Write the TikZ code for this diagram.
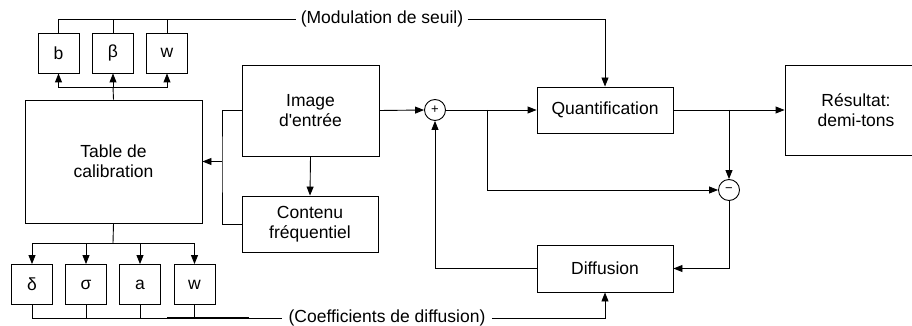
\documentclass[tikz,border=0pt]{standalone}
\usepackage{fontspec}
\newfontfamily\arial{Liberation Sans}
\usetikzlibrary{arrows.meta}

\begin{document}
\begin{tikzpicture}[x=1pt,y=-1pt,line width=0.9pt,
        >={Triangle[length=9pt,width=7pt]},
        every node/.style={font=\arial\fontsize{17.5}{20}\selectfont},
        bloc/.style={draw,inner sep=0pt,align=center},
        coef/.style={bloc,minimum width=41pt,minimum height=40pt},
        somme/.style={draw,circle,inner sep=0pt,minimum size=21pt,
            font=\arial\fontsize{13}{13}\selectfont}]
        \useasboundingbox (0,0) rectangle (912,326);
        \clip (0,0) rectangle (912,326);

        \node[coef] (b) at (58.5,53) {b};
        \node[coef] (beta) at (113,53) {β};
        \node[coef] (w1) at (167,53) {w};
        \node[bloc,minimum width=177pt,minimum height=123pt] (table) at (113.5,161.5) {Table de\\calibration};
        \node[coef] (delta) at (32,284.5) {δ};
        \node[coef] (sigma) at (86,284.5) {σ};
        \node[coef] (a) at (140,284.5) {a};
        \node[coef] (w2) at (194.5,284.5) {w};

        \node[bloc,minimum width=137pt,minimum height=91pt] (image) at (310.5,110.5) {Image\\d'entrée};
        \node[bloc,minimum width=136pt,minimum height=56pt] (contenu) at (310,224) {Contenu\\fréquentiel};
        \node[somme] (plus) at (435,110) {+};
        \node[bloc,minimum width=136pt,minimum height=46pt] (quant) at (605,110) {Quantification};
        \node[somme] (minus) at (729,190) {−};
        \node[bloc,minimum width=136pt,minimum height=47pt] (diff) at (605,268.5) {Diffusion};
        \node[bloc,minimum width=142pt,minimum height=90pt] (res) at (856,110) {Résultat:\\demi-tons};

        \node[inner sep=4pt] (seuil) at (382,19) {(Modulation de seuil)};
        \node[inner sep=6pt] (coeffs) at (387,318) {(Coefficients de diffusion)};

        \coordinate (tj) at (113,87);
        \coordinate (bj) at (113,243);
        \coordinate (ij) at (222,161.5);
        \coordinate (sj) at (487,110);
        \coordinate (qj) at (729,110);

        \draw (table.north) -- (tj);
        \foreach \n in {b,beta,w1}
            \draw[->] (tj) -| (\n.south);
        \draw (b.north) |- (seuil.west);
        \draw (beta.north) -- (beta.north |- seuil);
        \draw (w1.north) -- (w1.north |- seuil);
        \draw[->] (seuil.east) -| (quant.north);

        \draw (table.south) -- (bj);
        \foreach \n in {delta,sigma,a,w2}
            \draw[->] (bj) -| (\n.north);
        \draw (delta.south) |- (coeffs.west);
        \foreach \n in {sigma,a,w2}
            \draw (\n.south) -- (\n.south |- coeffs);
        \draw[line width=1.8pt] (167,318) -- (249,318);
        \draw[->] (coeffs.east) -| (diff.south);

        \draw (image.west) -| (ij) |- (contenu.west);
        \draw[->] (ij) -- (table.east);
        \draw[->] (image.south) -- (contenu.north);

        \draw[->] (image.east) -- (plus.west);
        \draw[->] (plus.east) -- (quant.west);
        \draw[->] (sj) |- (minus.west);
        \draw[->] (quant.east) -- (res.west);
        \draw[->] (qj) -- (minus.north);
        \draw[->] (minus.south) |- (diff.east);
        \draw[->] (diff.west) -| (plus.south);
    \end{tikzpicture}
\end{document}
